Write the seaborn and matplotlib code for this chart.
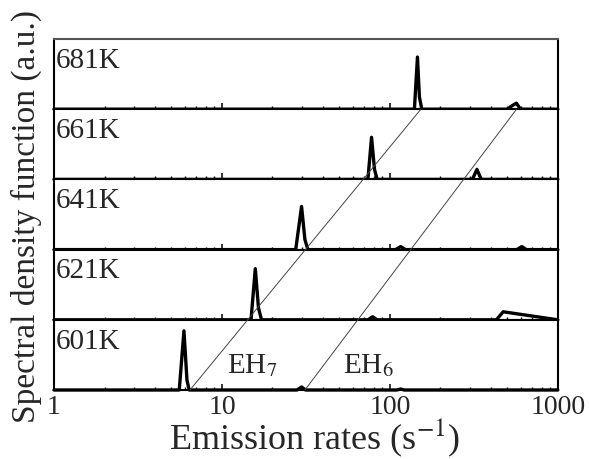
import matplotlib
matplotlib.use("Agg")
import matplotlib.pyplot as plt
from matplotlib.patches import ConnectionPatch
from matplotlib.ticker import LogLocator, NullFormatter, FixedLocator, FixedFormatter
import seaborn as sns
import pandas as pd

# ---- data ----
temperatures = ["681K", "661K", "641K", "621K", "601K"]

rate_681 = [1, 128, 140, 146, 150, 155, 500, 540, 567, 600, 1000]
sdf_681 = [0, 0, 0, 52, 12, 0, 0, 4, 6, 0, 0]

rate_661 = [1, 71, 74, 77.8, 81, 84, 310, 330, 350, 1000]
sdf_661 = [0, 0, 0, 42, 10, 0, 0, 10, 0, 0]

rate_641 = [1, 27.5, 29.8, 31.2, 32.5, 108, 116, 124, 570, 611, 650, 1000]
sdf_641 = [0, 0, 43, 10, 0, 0, 3, 0, 0, 3, 0, 0]

rate_621 = [1, 14.9, 15.8, 16.5, 17.2, 74, 79, 84, 431, 473, 1000]
sdf_621 = [0, 0, 51, 12, 0, 0, 3, 0, 0, 8, 0]

rate_601 = [1, 5.57, 5.94, 6.19, 6.38, 28, 29.8, 31.5, 110, 116, 122, 1000]
sdf_601 = [0, 0, 59, 10, 0, 0, 3, 0, 0, 1, 0, 0]

rates = [rate_681, rate_661, rate_641, rate_621, rate_601]
sdfs = [sdf_681, sdf_661, sdf_641, sdf_621, sdf_601]

# guide lines: (rate at 601K baseline, rate at 661K/681K boundary)
eh7_rates = [6.45, 153]
eh6_rates = [31.2, 568]
label_names = ["EH$_7$", "EH$_6$"]
label_rates = [10.7, 52.7]

xtick_values = [1, 10, 100, 1000]
xtick_labels = ["1", "10", "100", "1000"]

frames = []
for t, r, s in zip(temperatures, rates, sdfs):
    frames.append(pd.DataFrame({"T": t, "rate": r, "sdf": s}))
df = pd.concat(frames, ignore_index=True)

# ---- figure ----
sns.set_theme(style="ticks")
plt.rcParams["font.family"] = ["Liberation Serif", "DejaVu Serif"]
plt.rcParams["mathtext.fontset"] = "stix"

fig, axes = plt.subplots(5, 1, figsize=(5.89, 4.60), dpi=100, sharex=True,
                         gridspec_kw=dict(hspace=0))
fig.subplots_adjust(left=0.0917, right=0.947, bottom=0.15, top=0.913)

for ax, t in zip(axes, temperatures):
    sub = df[df["T"] == t]
    sns.lineplot(data=sub, x="rate", y="sdf", ax=ax, color="black",
                 linewidth=2.4, sort=False, estimator=None, clip_on=False)
    ax.set_xscale("log")
    ax.set_xlim(1, 1000)
    ax.set_ylim(0, 70)
    ax.set_yticks([])
    ax.set_ylabel("")
    ax.set_xlabel("")
    for sp in ax.spines.values():
        sp.set_linewidth(1.5)
        sp.set_color("black")
        sp.set_visible(True)
    ax.xaxis.set_major_locator(FixedLocator(xtick_values))
    ax.xaxis.set_minor_locator(LogLocator(base=10, subs=range(2, 10)))
    ax.xaxis.set_minor_formatter(NullFormatter())
    ax.tick_params(axis="x", which="major", direction="in", length=4.5,
                   width=1.1, color="black")
    ax.tick_params(axis="x", which="minor", direction="in", length=2.3,
                   width=1.0, color="black")
    ax.text(0.003, 0.89, t, transform=ax.transAxes, ha="left", va="top",
            fontsize=21)

axes[0].spines["top"].set_color("#555555")
for ax in axes[:-1]:
    ax.tick_params(axis="x", labelbottom=False)
axes[-1].xaxis.set_major_formatter(FixedFormatter(xtick_labels))
axes[-1].tick_params(axis="x", labelsize=20, pad=3)

# guide lines across the panels
for seg in (eh7_rates, eh6_rates):
    con = ConnectionPatch(xyA=(seg[0], 0), coordsA=axes[-1].transData,
                          xyB=(seg[1], 0), coordsB=axes[0].transData,
                          color="#444444", linewidth=0.7)
    fig.add_artist(con)

for name, r in zip(label_names, label_rates):
    axes[-1].text(r, 0.26, name, transform=axes[-1].get_xaxis_transform(),
                  ha="left", va="baseline", fontsize=21)

fig.text(0.534, 0.002, "Emission rates (s$^{-1}$)", ha="center",
         va="bottom", fontsize=26)
fig.text(0.044, 0.53, "Spectral density function (a.u.)", rotation=90,
         ha="center", va="center", fontsize=24)

fig.savefig("out.png", dpi=100)
